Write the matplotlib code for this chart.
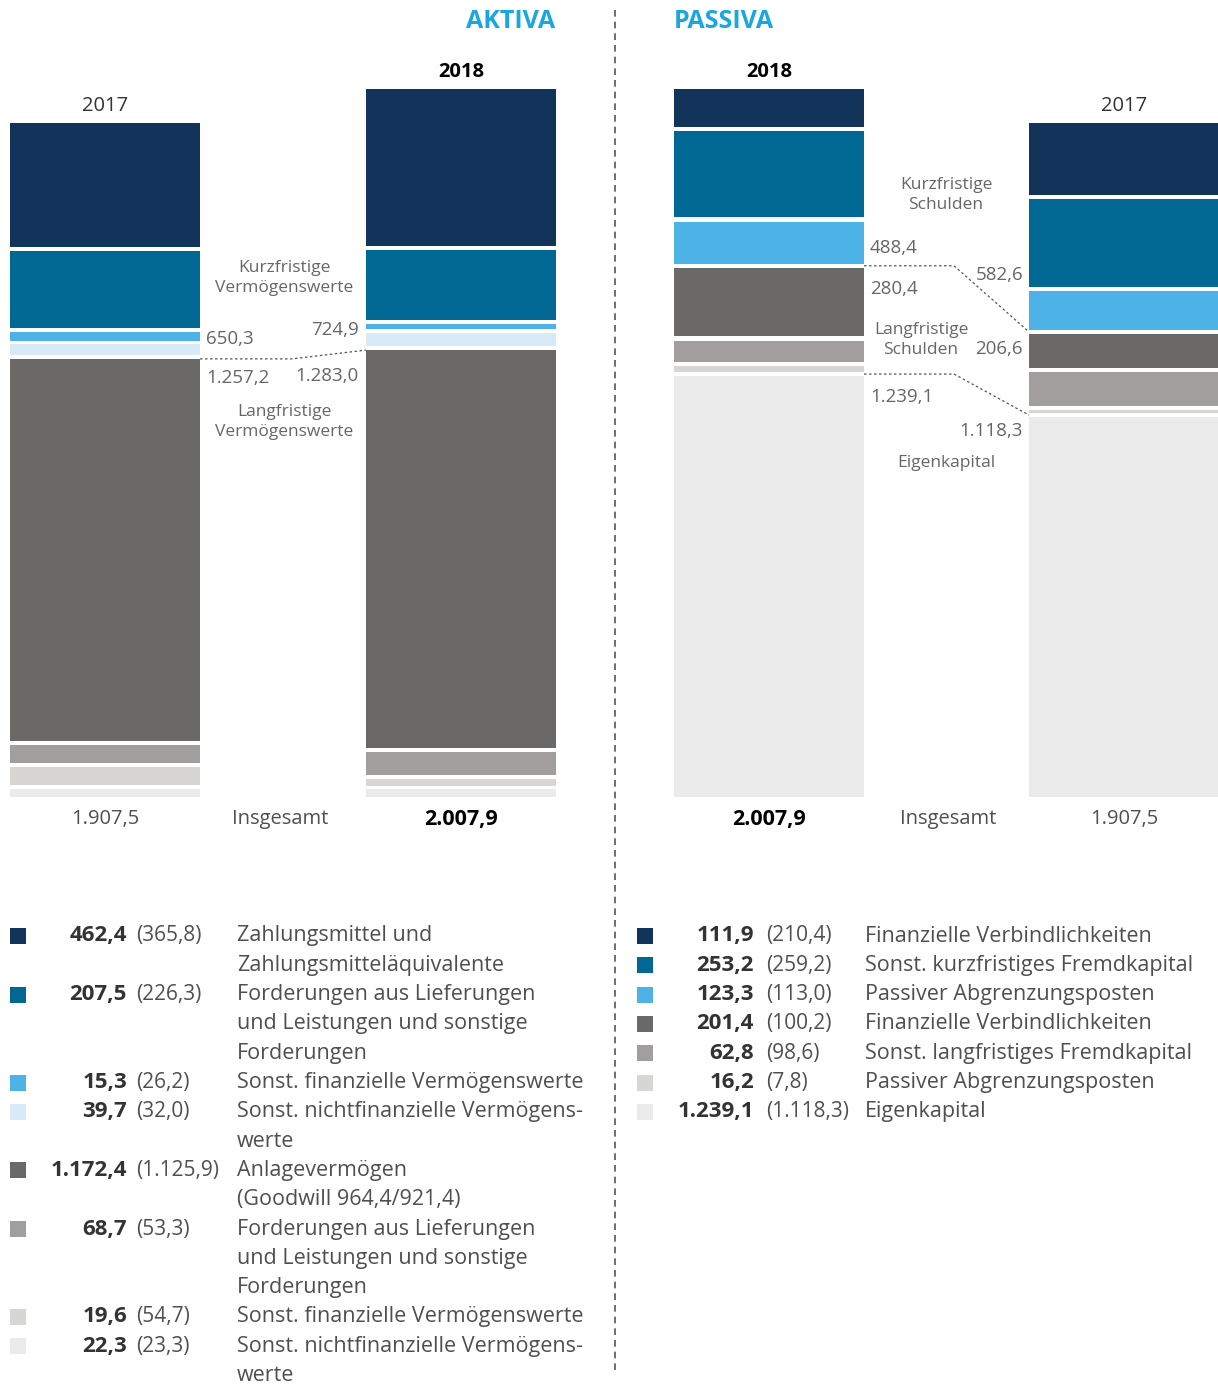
import matplotlib.pyplot as plt
from matplotlib.lines import Line2D
from matplotlib.patches import Rectangle

plt.rcParams['font.family'] = ['Open Sans', 'DejaVu Sans']

# data (top of the stack first, as in the legend)
aktiva_labels = [
    "Zahlungsmittel und\nZahlungsmitteläquivalente",
    "Forderungen aus Lieferungen\nund Leistungen und sonstige\nForderungen",
    "Sonst. finanzielle Vermögenswerte",
    "Sonst. nichtfinanzielle Vermögens-\nwerte",
    "Anlagevermögen\n(Goodwill 964,4/921,4)",
    "Forderungen aus Lieferungen\nund Leistungen und sonstige\nForderungen",
    "Sonst. finanzielle Vermögenswerte",
    "Sonst. nichtfinanzielle Vermögens-\nwerte",
]
aktiva_2018 = [462.4, 207.5, 15.3, 39.7, 1172.4, 68.7, 19.6, 22.3]
aktiva_2017 = [365.8, 226.3, 26.2, 32.0, 1125.9, 53.3, 54.7, 23.3]
aktiva_colors = ['#12345a', '#006892', '#4db3e6', '#d8eaf8',
                 '#6b6967', '#a29e9d', '#d8d5d5', '#ebebeb']

passiva_labels = [
    "Finanzielle Verbindlichkeiten",
    "Sonst. kurzfristiges Fremdkapital",
    "Passiver Abgrenzungsposten",
    "Finanzielle Verbindlichkeiten",
    "Sonst. langfristiges Fremdkapital",
    "Passiver Abgrenzungsposten",
    "Eigenkapital",
]
passiva_2018 = [111.9, 253.2, 123.3, 201.4, 62.8, 16.2, 1239.1]
passiva_2017 = [210.4, 259.2, 113.0, 100.2, 98.6, 7.8, 1118.3]
passiva_colors = ['#12345a', '#006892', '#4db3e6',
                  '#6b6967', '#a29e9d', '#d8d5d5', '#ebebeb']

W, H = 1218, 1385
GAP_A = 11.0        # white gap between segments, in value units
GAP_P = 12.8
BAR_W = 190
TXT = '#4f4f4f'
ANN = '#666666'
DARK = '#333333'
BLUE = '#1aa6df'


def de(v):
    s = f"{v:,.1f}"
    return s.replace(',', 'X').replace('.', ',').replace('X', '.')


def fx(px):
    return px / W


def fy(py):
    return 1 - py / H


def stack(ax, x, values, colors, gap):
    # draws from the bottom up, returns (bottom, top) of each segment, bottom first
    spans = []
    base = 0.0
    for v, c in zip(values[::-1], colors[::-1]):
        ax.bar(x, v, bottom=base, width=BAR_W, color=c, linewidth=0)
        spans.append((base, base + v))
        base += v + gap
    return spans


fig = plt.figure(figsize=(W / 100, H / 100), dpi=100)
ax = fig.add_axes([0, fy(797), 1, (797 - 89) / H])
ax.set_xlim(0, W)
ax.axis('off')

xa17, xa18, xp18, xp17 = 105, 461, 769, 1124
sa17 = stack(ax, xa17, aktiva_2017, aktiva_colors, GAP_A)
sa18 = stack(ax, xa18, aktiva_2018, aktiva_colors, GAP_A)
sp18 = stack(ax, xp18, passiva_2018, passiva_colors, GAP_P)
sp17 = stack(ax, xp17, passiva_2017, passiva_colors, GAP_P)
ax.set_ylim(0, max(s[-1][1] for s in (sa17, sa18, sp18, sp17)))

# year labels above the bars
for x, spans, yr, bold in [(xa17, sa17, "2017", False), (xa18, sa18, "2018", True),
                           (xp18, sp18, "2018", True), (xp17, sp17, "2017", False)]:
    ax.annotate(yr, xy=(x, spans[-1][1]), xytext=(0, 17), textcoords='offset pixels',
                ha='center', va='center', fontsize=14.5,
                fontweight='bold' if bold else 'normal',
                color='black' if bold else DARK, annotation_clip=False)

# dotted connectors
dot = dict(color='#555555', lw=0.9, ls=(0, (2, 2)))
ya17, ya18 = sa17[3][1], sa18[3][1]
ax.plot([xa17 + BAR_W / 2, 292, xa18 - BAR_W / 2], [ya17, ya17, ya18], **dot)
for k in (0, 3):
    y18 = sp18[k][1] + GAP_P / 2
    y17 = sp17[k][1] + GAP_P / 2
    ax.plot([xp18 + BAR_W / 2, 954, xp17 - BAR_W / 2], [y18, y18, y17], **dot)

# titles
fig.text(fx(555), fy(21), "AKTIVA", ha='right', va='center', fontsize=18,
         fontweight='bold', color=BLUE)
fig.text(fx(674), fy(21), "PASSIVA", ha='left', va='center', fontsize=18,
         fontweight='bold', color=BLUE)

# annotations between the bars
ann = dict(va='center', fontsize=12.5, color=ANN)
val = dict(va='center', fontsize=13.5, color=ANN)
fig.text(fx(284), fy(278), "Kurzfristige\nVermögenswerte", ha='center', linespacing=1.4, **ann)
fig.text(fx(284), fy(422), "Langfristige\nVermögenswerte", ha='center', linespacing=1.4, **ann)
fig.text(fx(206), fy(339), de(sum(aktiva_2017[:4])), ha='left', **val)
fig.text(fx(359), fy(330), de(sum(aktiva_2018[:4])), ha='right', **val)
fig.text(fx(206), fy(378), de(sum(aktiva_2017[4:])), ha='left', **val)
fig.text(fx(359), fy(376), de(sum(aktiva_2018[4:])), ha='right', **val)

fig.text(fx(946), fy(195), "Kurzfristige\nSchulden", ha='center', linespacing=1.4, **ann)
fig.text(fx(921), fy(340), "Langfristige\nSchulden", ha='center', linespacing=1.4, **ann)
fig.text(fx(946), fy(463), "Eigenkapital", ha='center', **ann)
fig.text(fx(870), fy(248), de(sum(passiva_2018[:3])), ha='left', **val)
fig.text(fx(1023), fy(275), de(sum(passiva_2017[:3])), ha='right', **val)
fig.text(fx(870), fy(289), de(sum(passiva_2018[3:6])), ha='left', **val)
fig.text(fx(1023), fy(349), de(sum(passiva_2017[3:6])), ha='right', **val)
fig.text(fx(870), fy(397), de(passiva_2018[6]), ha='left', **val)
fig.text(fx(1023), fy(431), de(passiva_2017[6]), ha='right', **val)

# totals
tot = dict(va='center', fontsize=14.5, ha='center')
totb = dict(va='center', fontsize=15.5, ha='center', color='black', fontweight='bold')
fig.text(fx(xa17), fy(819), de(sum(aktiva_2017)), color=TXT, **tot)
fig.text(fx(280), fy(819), "Insgesamt", color=TXT, **tot)
fig.text(fx(xa18), fy(819), de(sum(aktiva_2018)), **totb)
fig.text(fx(xp18), fy(819), de(sum(passiva_2018)), **totb)
fig.text(fx(948), fy(819), "Insgesamt", color=TXT, **tot)
fig.text(fx(xp17), fy(819), de(sum(passiva_2017)), color=TXT, **tot)

# dashed divider
fig.add_artist(Line2D([fx(615), fx(615)], [fy(10), fy(1375)], color='#555555',
                      lw=1.2, ls=(0, (4, 3)), transform=fig.transFigure))


# legends
def legend(labels, now, prev, colors, x_sq, x_val, x_prev, x_lab, y0=936, pitch=29.3):
    row = 0
    for lab, v, p, c in zip(labels, now, prev, colors):
        y = y0 + row * pitch
        fig.add_artist(Rectangle((fx(x_sq), fy(y + 8)), 16 / W, 16 / H, color=c,
                                 transform=fig.transFigure, lw=0))
        fig.text(fx(x_val), fy(y), de(v), ha='right', va='center', fontsize=16,
                 fontweight='bold', color=DARK)
        fig.text(fx(x_prev), fy(y), f"({de(p)})", ha='left', va='center', fontsize=15,
                 color=TXT)
        for line in lab.split('\n'):
            fig.text(fx(x_lab), fy(y0 + row * pitch), line, ha='left', va='center',
                     fontsize=15.5, color=TXT)
            row += 1


legend(aktiva_labels, aktiva_2018, aktiva_2017, aktiva_colors, 10, 127, 136, 237)
legend(passiva_labels, passiva_2018, passiva_2017, passiva_colors, 637, 754, 766, 865)

fig.savefig("out.png", dpi=100)
